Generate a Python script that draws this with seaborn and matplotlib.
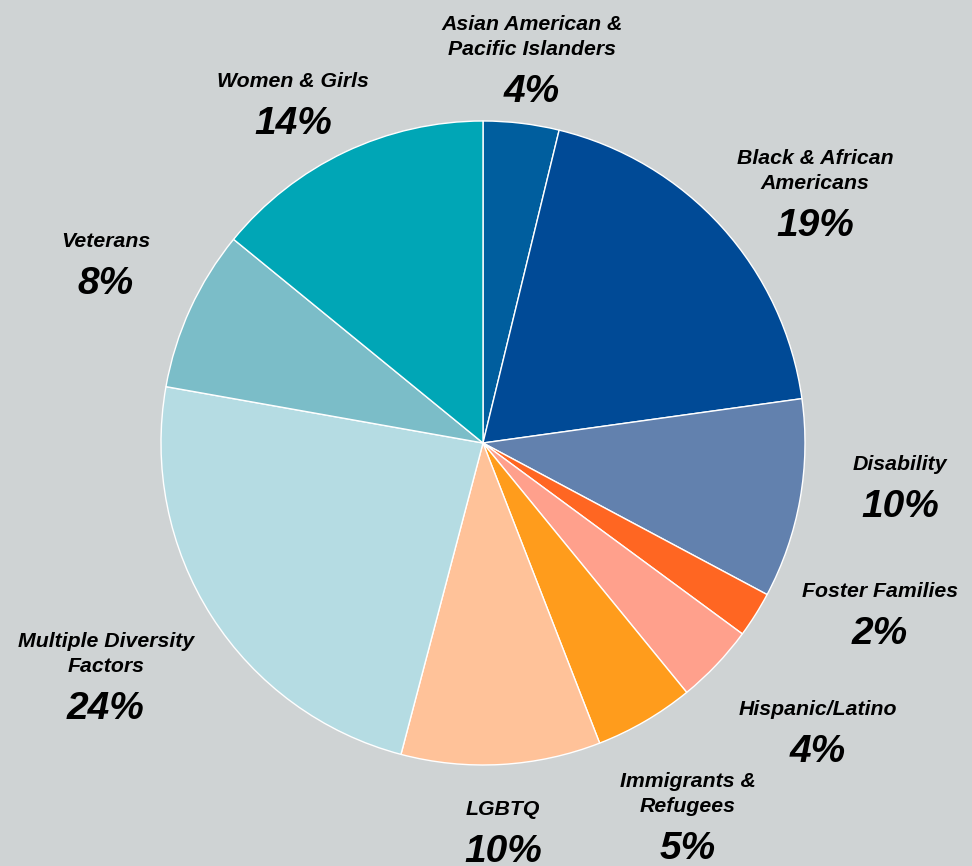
import matplotlib.pyplot as plt
import numpy as np
import seaborn as sns

# Data (share of grants, %)
groups = ['Asian American &\nPacific Islanders', 'Black & African\nAmericans', 'Disability',
          'Foster Families', 'Hispanic/Latino', 'Immigrants &\nRefugees', 'LGBTQ',
          'Multiple Diversity\nFactors', 'Veterans', 'Women & Girls']
shares = [3.8, 19.0, 10.0, 2.3, 4.0, 5.0, 10.0, 23.7, 8.1, 14.1]
pct_labels = ['4%', '19%', '10%', '2%', '4%', '5%', '10%', '24%', '8%', '14%']

colors = ['#005e9e', '#004a96', '#6281ae', '#ff6622', '#ffa08c',
          '#ff9c1c', '#ffc299', '#b5dce3', '#7bbdc8', '#00a6b6']

# label anchor points (centre of the percentage text), in pie-radius units
label_pos = [(0.152, 1.102), (1.031, 0.686), (1.295, -0.186), (1.233, -0.581),
             (1.040, -0.947), (0.637, -1.248), (0.062, -1.258), (-1.171, -0.814),
             (-1.171, 0.506), (-0.590, 1.003)]

sns.set_style('white')
plt.rcParams['font.family'] = ['Liberation Sans', 'DejaVu Sans']
plt.rcParams['text.color'] = 'black'
bg = '#cfd3d4'

fig = plt.figure(figsize=(9.72, 8.66), dpi=100, facecolor=bg)
ax = fig.add_axes([0, 0, 1, 1])
ax.set_facecolor(bg)

ax.pie(shares, colors=colors, startangle=90, counterclock=False, radius=1,
       wedgeprops=dict(edgecolor='white', linewidth=1))

for name, pct, (x, y) in zip(groups, pct_labels, label_pos):
    ax.annotate(name, (x, y), xytext=(0, 33), textcoords='offset pixels',
                ha='center', va='baseline', fontsize=15.3, fontweight='bold',
                fontstyle='italic', linespacing=1.4, multialignment='center',
                color='black')
    ax.annotate(pct, (x, y), xytext=(0, -14), textcoords='offset pixels',
                ha='center', va='baseline', fontsize=28, fontweight='bold',
                fontstyle='italic', color='black')

ax.set_xlim(-483 / 322, (972 - 483) / 322)
ax.set_ylim(-423 / 322, 443 / 322)
ax.set_aspect('auto')
ax.axis('off')

fig.savefig('out.png', dpi=100, facecolor=bg)
